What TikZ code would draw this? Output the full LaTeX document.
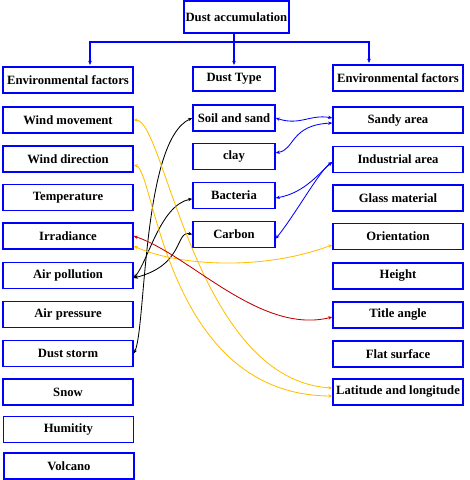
\documentclass[tikz,border=0pt]{standalone}
\usepackage{fontspec}
\setmainfont{Liberation Serif}
\usetikzlibrary{arrows.meta}
\definecolor{gold}{RGB}{255,192,0}
\definecolor{darkred}{RGB}{192,0,0}

\begin{document}
\begin{tikzpicture}[scale=1,
  box/.style={draw=blue, line width=0.9pt, minimum height=0.65cm, inner sep=0pt, font=\fontsize{9}{10}\selectfont\bfseries},
  wide/.style={box, minimum width=3.25cm},
  narrow/.style={box, minimum width=2.05cm},
  tree/.style={blue, line width=0.9pt, -{Stealth[length=3pt,width=2.6pt]}, shorten >=1pt},
  link/.style={{Stealth[length=3pt,width=2.4pt]}-{Stealth[length=3pt,width=2.4pt]}, line width=0.6pt}]
\useasboundingbox (0,0) rectangle (11.75,-12);

\node[box, minimum width=2.625cm, minimum height=0.8cm] (acc) at (5.91,-0.425) {Dust accumulation};
\node[wide] (envl) at (1.7,-2.0) {Environmental factors};
\node[narrow, minimum height=0.6cm] (dtype) at (5.85,-1.975) {Dust Type};
\node[wide] (envr) at (9.95,-1.95) {Environmental factors};

% left column
\node[wide] (windmov) at (1.7,-3.0) {Wind movement};
\node[wide] (winddir) at (1.7,-3.975) {Wind direction};
\node[wide] (temp) at (1.7,-4.94) {Temperature};
\node[wide] (irrad) at (1.7,-5.9) {Irradiance};
\node[wide] (airpol) at (1.7,-6.89) {Air pollution};
\node[wide] (airpres) at (1.7,-7.86) {Air pressure};
\node[wide] (storm) at (1.7,-8.84) {Dust storm};
\node[wide] (snow) at (1.7,-9.8) {Snow};
\node[wide] (humid) at (1.71,-10.74) {Humitity};
\node[wide] (volcano) at (1.725,-11.65) {Volcano};

% middle column
\node[narrow] (soil) at (5.85,-2.95) {Soil and sand};
\node[narrow] (clay) at (5.85,-3.91) {clay};
\node[narrow] (bact) at (5.85,-4.89) {Bacteria};
\node[narrow] (carbon) at (5.85,-5.86) {Carbon};

% right column
\node[wide] (sandy) at (9.95,-3.0) {Sandy area};
\node[wide] (indus) at (9.95,-3.99) {Industrial area};
\node[wide] (glass) at (9.95,-4.95) {Glass material};
\node[wide] (orient) at (9.95,-5.91) {Orientation};
\node[wide] (height) at (9.95,-6.9) {Height};
\node[wide] (tangle) at (9.95,-7.875) {Title angle};
\node[wide] (flat) at (9.95,-8.85) {Flat surface};
\node[wide] (latlong) at (9.95,-9.8) {Latitude and longitude};

% tree
\coordinate (split) at (5.85,-1.05);
\draw[blue, line width=0.9pt] (acc.south -| split) -- (split);
\draw[tree] (split) -| ([xshift=0.55cm]envl.north);
\draw[tree] (split) -- (dtype.north);
\draw[tree] (split) -| ([xshift=-0.725cm]envr.north);

% links
\draw[link] (storm.east) .. controls (3.65,-8.25) and (3.55,-3.5) .. (soil.west);
\draw[link] ([yshift=-0.06cm]airpol.east) .. controls (3.7,-6.55) and (4.0,-5.125) .. ([yshift=-0.08cm]bact.west);
\draw[link] ([yshift=-0.06cm]airpol.east) .. controls (4.625,-6.625) and (4.375,-5.75) .. (carbon.west);

\draw[link, blue] (soil.east) .. controls (7.5,-3.15) and (7.75,-2.85) .. ([yshift=0.05cm]sandy.west);
\draw[link, blue] ([yshift=0.09cm]clay.east) .. controls (7.375,-3.75) and (7.25,-3.125) .. ([yshift=-0.075cm]sandy.west);
\draw[link, blue] ([yshift=-0.06cm]bact.east) .. controls (7.625,-4.825) and (8.0,-4.3) .. ([yshift=-0.06cm]indus.west);
\draw[link, blue] ([yshift=-0.11cm]carbon.east) .. controls (7.375,-5.375) and (8.0,-4.25) .. ([yshift=-0.06cm]indus.west);

\draw[link, gold] (windmov.east) .. controls (4.125,-3.0) and (4.875,-9.5) .. ([yshift=0.1cm]latlong.west);
\draw[link, gold] ([yshift=-0.15cm]winddir.east) .. controls (3.875,-4.25) and (4.125,-9.875) .. ([yshift=-0.1cm]latlong.west);
\draw[link, gold] ([yshift=-0.25cm]irrad.east) .. controls (4.375,-6.625) and (6.5,-6.8) .. ([yshift=-0.21cm]orient.west);
\draw[link, darkred] (irrad.east) .. controls (4.75,-6.375) and (6.5,-8.375) .. ([yshift=-0.05cm]tangle.west);
\end{tikzpicture}
\end{document}
